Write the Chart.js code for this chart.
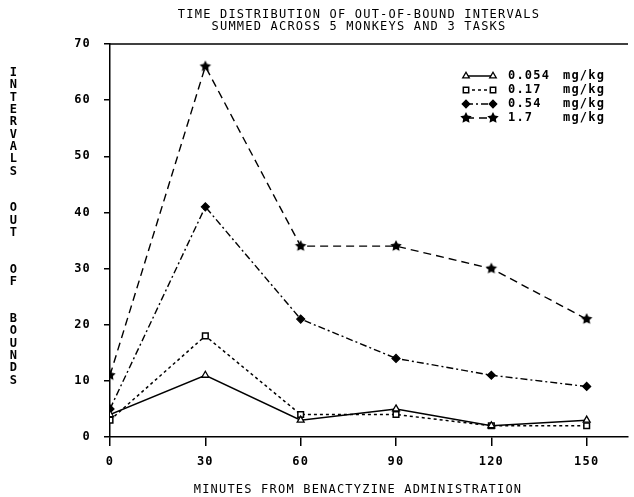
<!DOCTYPE html>
<html><head><meta charset="utf-8">
<script src="https://cdn.jsdelivr.net/npm/chart.js@4/dist/chart.umd.min.js"></script>
<style>html,body{margin:0;padding:0;background:#fff;}</style>
</head><body>
<canvas id="c" width="634" height="497"></canvas>
<script>
// ---- data ----
const titleLines = ['TIME DISTRIBUTION OF OUT-OF-BOUND INTERVALS', 'SUMMED ACROSS 5 MONKEYS AND 3 TASKS'];
const xAxisTitle = 'MINUTES FROM BENACTYZINE ADMINISTRATION';
const yAxisTitle = 'INTERVALS  OUT  OF  BOUNDS';
const minutes = [0, 30, 60, 90, 120, 150];
const xTickValues = [0, 30, 60, 90, 120, 150];
const yTickValues = [0, 10, 20, 30, 40, 50, 60, 70];
const doseLabels = ['0.054', '0.17', '0.54', '1.7'];
const unitLabel = 'mg/kg';
const dose0054 = [4, 11, 3, 5, 2, 3];
const dose017 = [3, 18, 4, 4, 2, 2];
const dose054 = [5, 41, 21, 14, 11, 9];
const dose17 = [11, 66, 34, 34, 30, 21];

const FONT = '"DejaVu Sans Mono", "Liberation Mono", monospace';
const SPACING = '1.2px';

function makeStar(r) {
  const c = document.createElement('canvas');
  const s = Math.ceil(r * 2 + 2);
  c.width = s; c.height = s;
  const g = c.getContext('2d');
  g.fillStyle = '#000';
  g.beginPath();
  for (let i = 0; i < 10; i++) {
    const rad = i % 2 === 0 ? r : r * 0.5;
    const a = -Math.PI / 2 + i * Math.PI / 5;
    const x = s / 2 + rad * Math.cos(a), y = s / 2 + rad * Math.sin(a);
    i === 0 ? g.moveTo(x, y) : g.lineTo(x, y);
  }
  g.closePath(); g.fill();
  return c;
}
const starImg = makeStar(6);

const toPts = arr => arr.map((v, i) => ({ x: minutes[i], y: v }));

const datasets = [
  { label: doseLabels[0], data: toPts(dose0054), borderColor: '#000', borderWidth: 1.5, borderDash: [],
    pointStyle: 'triangle', pointRadius: 4, pointBackgroundColor: '#fff', pointBorderColor: '#000', pointBorderWidth: 1.3 },
  { label: doseLabels[1], data: toPts(dose017), borderColor: '#000', borderWidth: 1.5, borderDash: [3, 3],
    pointStyle: 'rect', pointRadius: 4, pointBackgroundColor: '#fff', pointBorderColor: '#000', pointBorderWidth: 1.5 },
  { label: doseLabels[2], data: toPts(dose054), borderColor: '#000', borderWidth: 1.4, borderDash: [7, 3, 2, 3],
    pointStyle: 'rectRot', pointRadius: 4, pointBackgroundColor: '#000', pointBorderColor: '#000', pointBorderWidth: 1.2 },
  { label: doseLabels[3], data: toPts(dose17), borderColor: '#000', borderWidth: 1.4, borderDash: [8, 5],
    pointStyle: starImg, pointRadius: 6, pointBackgroundColor: '#000', pointBorderColor: '#000', pointBorderWidth: 0 }
];

const textPlugin = {
  id: 'textPlugin',
  beforeDraw(chart) { chart.ctx.letterSpacing = SPACING; },
  afterDraw(chart) {
    const ctx = chart.ctx, a = chart.chartArea;
    ctx.save();
    ctx.letterSpacing = SPACING;
    // top frame line
    ctx.strokeStyle = '#000'; ctx.lineWidth = 1.5; ctx.setLineDash([]);
    ctx.beginPath(); ctx.moveTo(a.left, a.top); ctx.lineTo(a.right, a.top); ctx.stroke();
    ctx.fillStyle = '#000';
    // title
    ctx.font = '12px ' + FONT; ctx.textAlign = 'center'; ctx.textBaseline = 'middle';
    ctx.fillText(titleLines[0], 359, 15);
    ctx.fillText(titleLines[1], 359, 27);
    // x title
    ctx.fillText(xAxisTitle, 358, 490);
    // y title, stacked letters
    ctx.font = 'bold 12px ' + FONT;
    for (let i = 0; i < yAxisTitle.length; i++) {
      const ch = yAxisTitle[i];
      if (ch !== ' ') ctx.fillText(ch, 14, 73 + i * 12.3);
    }
    // legend
    const rowY = [76, 90, 104, 118];
    const x1 = 466, x2 = 493;
    chart.data.datasets.forEach((ds, i) => {
      const y = rowY[i];
      ctx.lineWidth = ds.borderWidth; ctx.strokeStyle = '#000';
      ctx.setLineDash(ds.borderDash || []);
      ctx.beginPath(); ctx.moveTo(x1, y); ctx.lineTo(x2, y); ctx.stroke();
      ctx.setLineDash([]);
      ctx.fillStyle = ds.pointBackgroundColor; ctx.strokeStyle = ds.pointBorderColor;
      ctx.lineWidth = ds.pointBorderWidth;
      [x1, x2].forEach(px => Chart.helpers.drawPoint(ctx, {
        pointStyle: ds.pointStyle, rotation: 0, radius: 3.8, borderWidth: ds.pointBorderWidth
      }, px, y));
      ctx.fillStyle = '#000';
      ctx.font = 'bold 12px ' + FONT; ctx.textAlign = 'left'; ctx.textBaseline = 'middle';
      ctx.fillText(ds.label, 508, y);
      ctx.fillText(unitLabel, 563, y);
    });
    ctx.restore();
  }
};

new Chart(document.getElementById('c'), {
  type: 'line',
  data: { datasets },
  options: {
    responsive: false, animation: false, events: [],
    layout: { padding: { top: 44, right: 1, bottom: 0, left: 0 } },
    plugins: { legend: { display: false }, title: { display: false }, tooltip: { enabled: false } },
    elements: { line: { tension: 0 } },
    scales: {
      x: {
        type: 'linear', min: 0, max: 163,
        afterBuildTicks: s => { s.ticks = xTickValues.map(v => ({ value: v })); },
        afterFit: s => { s.height = 60; },
        grid: { drawOnChartArea: false, drawTicks: true, tickLength: 9, color: '#000', lineWidth: 1.5 },
        border: { display: true, color: '#000', width: 1.5 },
        ticks: { color: '#000', font: { family: FONT, size: 12, weight: 'bold' }, padding: 9,
                 maxRotation: 0, autoSkip: false }
      },
      y: {
        type: 'linear', min: 0, max: 70,
        afterBuildTicks: s => { s.ticks = yTickValues.map(v => ({ value: v })); },
        afterFit: s => { s.width = 110; },
        grid: { drawOnChartArea: false, drawTicks: true, tickLength: 6, color: '#000', lineWidth: 1.5 },
        border: { display: true, color: '#000', width: 1.5 },
        ticks: { color: '#000', font: { family: FONT, size: 12, weight: 'bold' }, padding: 13 }
      }
    }
  },
  plugins: [textPlugin]
});
</script>
</body></html>
